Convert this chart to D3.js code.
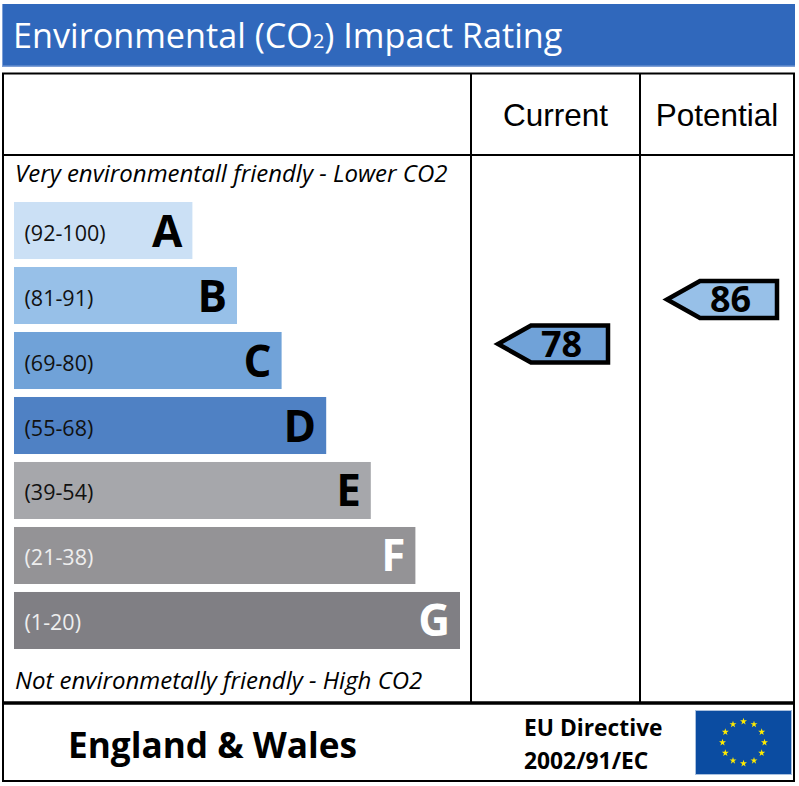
<!DOCTYPE html>
<html>
<head>
<meta charset="utf-8">
<script src="https://cdn.jsdelivr.net/npm/d3@7"></script>
<style>
  html, body { margin: 0; padding: 0; background: #fff; }
  svg { display: block; }
  text { font-family: "Open Sans", sans-serif; }
</style>
</head>
<body>
<svg id="chart" width="799" height="786"></svg>
<script>
// Bands, top (best) to bottom (worst).
const letters = ["A", "B", "C", "D", "E", "F", "G"];
const ranges = ["(92-100)", "(81-91)", "(69-80)", "(55-68)", "(39-54)", "(21-38)", "(1-20)"];
const barLengths = [4, 5, 6, 7, 8, 9, 10];
const bandColors = ["#cbe0f5", "#97c0e8", "#70a2d8", "#4f81c4", "#a6a7ab", "#949396", "#807f84"];
const letterColors = ["#000", "#000", "#000", "#000", "#000", "#fff", "#fff"];
const rangeColors = ["#111", "#111", "#111", "#111", "#111", "#eee", "#eee"];

const columns = ["Current", "Potential"];
const scores = [78, 86];
const scoreColors = ["#70a2d8", "#97c0e8"];

const svg = d3.select("#chart");

const x = d3.scaleLinear().domain([0, 10]).range([14, 460]);
const y = d3.scaleBand().domain(letters).range([202, 649]).paddingInner(0.1228);
const scoreY = d3.scaleLinear().domain([100, 0]).range([221.6, 777.8]);
const colCentre = [555.5, 717];
const colRight = [608, 777];

// header banner
svg.append("rect").attr("x", 2).attr("y", 4).attr("width", 793).attr("height", 63).attr("fill", "#7d9fd6");
svg.append("rect").attr("x", 3).attr("y", 4).attr("width", 792).attr("height", 61.5).attr("fill", "#3068bc");
const title = svg.append("text").attr("x", 13).attr("y", 48)
  .attr("fill", "#fff").attr("font-size", 34.2);
title.append("tspan").text("Environmental (CO");
title.append("tspan").attr("font-size", 20).text("2");
title.append("tspan").text(") Impact Rating");

// table frame
const frame = svg.append("g").attr("stroke", "#000").attr("fill", "none");
frame.append("rect").attr("x", 3).attr("y", 73.5).attr("width", 791).attr("height", 707.5).attr("stroke-width", 2);
frame.append("line").attr("x1", 3).attr("x2", 794).attr("y1", 155).attr("y2", 155).attr("stroke-width", 2);
frame.append("line").attr("x1", 471).attr("x2", 471).attr("y1", 73).attr("y2", 703).attr("stroke-width", 2);
frame.append("line").attr("x1", 640).attr("x2", 640).attr("y1", 73).attr("y2", 703).attr("stroke-width", 2);
frame.append("line").attr("x1", 3).attr("x2", 794).attr("y1", 703).attr("y2", 703).attr("stroke-width", 3.5);

// column headers
svg.selectAll(".col").data(columns).join("text")
  .attr("class", "col")
  .attr("x", (d, i) => colCentre[i])
  .attr("y", 126)
  .attr("text-anchor", "middle")
  .attr("font-size", 31.5)
  .style("font-family", "'Liberation Sans', Arial, sans-serif")
  .text(d => d);

// notes above and below the bars
svg.append("text").attr("x", 15).attr("y", 182).attr("font-size", 24).attr("font-style", "italic")
  .text("Very environmentall friendly - Lower CO2");
svg.append("text").attr("x", 15).attr("y", 689).attr("font-size", 24).attr("font-style", "italic")
  .text("Not environmetally friendly - High CO2");

// bands
const bands = svg.selectAll(".band").data(letters).join("g").attr("class", "band");
bands.append("rect")
  .attr("x", x(0))
  .attr("y", d => y(d))
  .attr("width", (d, i) => x(barLengths[i]) - x(0))
  .attr("height", y.bandwidth())
  .attr("fill", (d, i) => bandColors[i]);
bands.append("text")
  .attr("x", 24.5)
  .attr("y", d => y(d) + y.bandwidth() / 2 + 10)
  .attr("font-size", 21.5)
  .attr("fill", (d, i) => rangeColors[i])
  .text((d, i) => ranges[i]);
bands.append("text")
  .attr("x", (d, i) => x(barLengths[i]) - 10)
  .attr("y", d => y(d) + y.bandwidth() / 2 + 16)
  .attr("text-anchor", "end")
  .attr("font-size", 44)
  .attr("font-weight", 700)
  .attr("fill", (d, i) => letterColors[i])
  .text(d => d);

// score pointers
const pointers = svg.selectAll(".pointer").data(scores).join("g").attr("class", "pointer");
pointers.append("path")
  .attr("d", (d, i) => {
    const r = colRight[i], c = scoreY(d);
    return d3.line()([[r, c - 18.5], [r - 77, c - 18.5], [r - 110, c], [r - 77, c + 18.5], [r, c + 18.5]]) + "Z";
  })
  .attr("fill", (d, i) => scoreColors[i])
  .attr("stroke", "#000")
  .attr("stroke-width", 4.5);
pointers.append("text")
  .attr("x", (d, i) => colRight[i] - 46.5)
  .attr("y", d => scoreY(d) + 13)
  .attr("text-anchor", "middle")
  .attr("font-size", 36)
  .attr("font-weight", 700)
  .text(d => d);

// footer
svg.append("text").attr("x", 68).attr("y", 757.5).attr("font-size", 35.2).attr("font-weight", 700).text("England & Wales");
svg.append("text").attr("x", 524).attr("y", 736).attr("font-size", 22.8).attr("font-weight", 700).text("EU Directive");
svg.append("text").attr("x", 524).attr("y", 769).attr("font-size", 22.8).attr("font-weight", 700).text("2002/91/EC");

// EU flag
svg.append("rect").attr("x", 695.5).attr("y", 710.5).attr("width", 96).attr("height", 64)
  .attr("fill", "#0b4ca1").attr("stroke", "#a9c0de").attr("stroke-width", 1);
const star = d3.symbol().type(d3.symbolStar).size(15);
svg.selectAll(".star").data(d3.range(12)).join("path")
  .attr("class", "star")
  .attr("d", star)
  .attr("fill", "#ffeb00")
  .attr("transform", d => {
    const a = d * Math.PI / 6;
    return `translate(${743.5 + 21 * Math.sin(a)},${742.5 - 21 * Math.cos(a)})`;
  });
</script>
</body>
</html>
